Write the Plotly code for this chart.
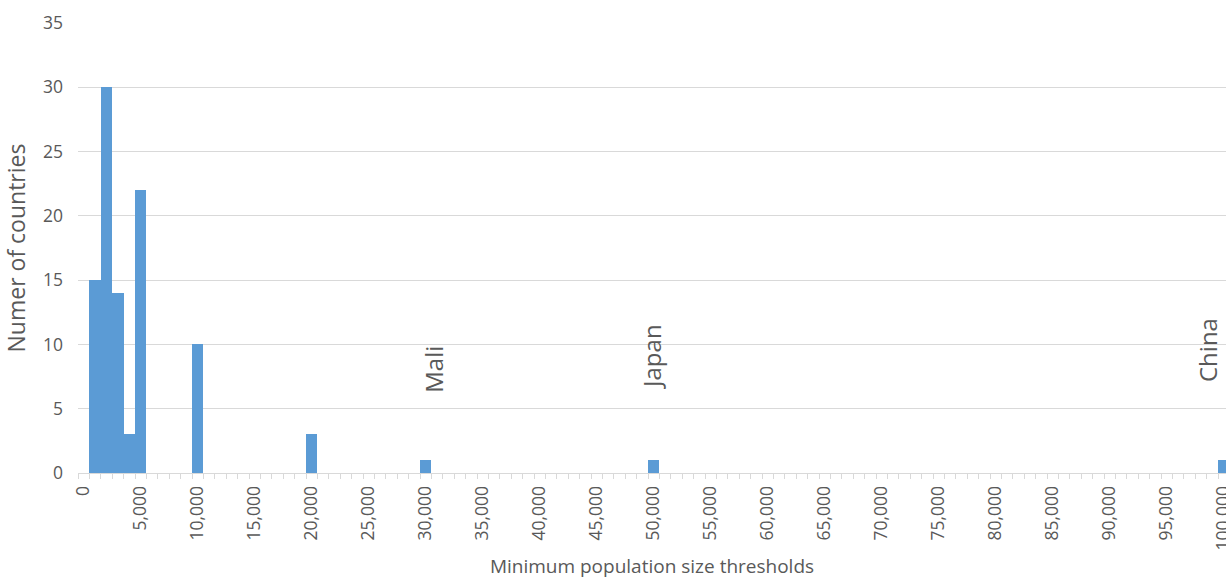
import plotly.graph_objects as go

# Data
thresholds = [1000, 2000, 3000, 4000, 5000, 10000, 20000, 30000, 50000, 100000]
counts = [15, 30, 14, 3, 22, 10, 3, 1, 1, 1]
label_names = ["Mali", "Japan", "China"]
label_x = [30000, 50000, 100000]
label_y = [6.1, 6.4, 6.9]

FONT = "Open Sans"
GREY = "#595959"
GRID = "#d9d9d9"

fig = go.Figure()
fig.add_trace(go.Bar(
    x=thresholds, y=counts, width=1000,
    marker=dict(color="#5B9BD5", line=dict(width=0)),
    showlegend=False,
))

x_shift = [7, -3, -16]
for name, lx, ly, xs in zip(label_names, label_x, label_y, x_shift):
    fig.add_annotation(
        x=lx, y=ly, text=name, textangle=-90, showarrow=False,
        xanchor="center", yanchor="bottom", xshift=xs,
        font=dict(family=FONT, size=24, color=GREY),
    )

fig.update_layout(
    width=1226, height=579,
    margin=dict(l=78, r=0, t=23, b=106),
    plot_bgcolor="white", paper_bgcolor="white",
    bargap=0,
    font=dict(family=FONT, color=GREY),
)
fig.update_xaxes(
    range=[-500, 100200],
    tick0=0, dtick=5000, tickformat=",d",
    tickangle=-90,
    tickfont=dict(family=FONT, size=17.5, color=GREY),
    ticklabeloverflow="allow",
    ticks="outside", ticklen=5, tickcolor="rgba(0,0,0,0)",
    showgrid=False, zeroline=False,
    showline=True, linecolor=GRID, linewidth=1,
    minor=dict(tick0=-500, dtick=1000, ticks="outside", ticklen=5,
               tickcolor=GRID, showgrid=False),
    title=dict(text="Minimum population size thresholds",
               font=dict(family=FONT, size=19, color=GREY), standoff=12),
    automargin=False,
)
fig.update_yaxes(
    range=[0, 35], dtick=5,
    tickfont=dict(family=FONT, size=17.5, color=GREY),
    showgrid=True, gridcolor=GRID, gridwidth=1,
    zeroline=False, showline=False,
    ticks="", ticklabelstandoff=14,
    title=dict(text="Numer of countries",
               font=dict(family=FONT, size=23, color=GREY), standoff=10),
    automargin=False,
)

fig.write_html("out.html")
